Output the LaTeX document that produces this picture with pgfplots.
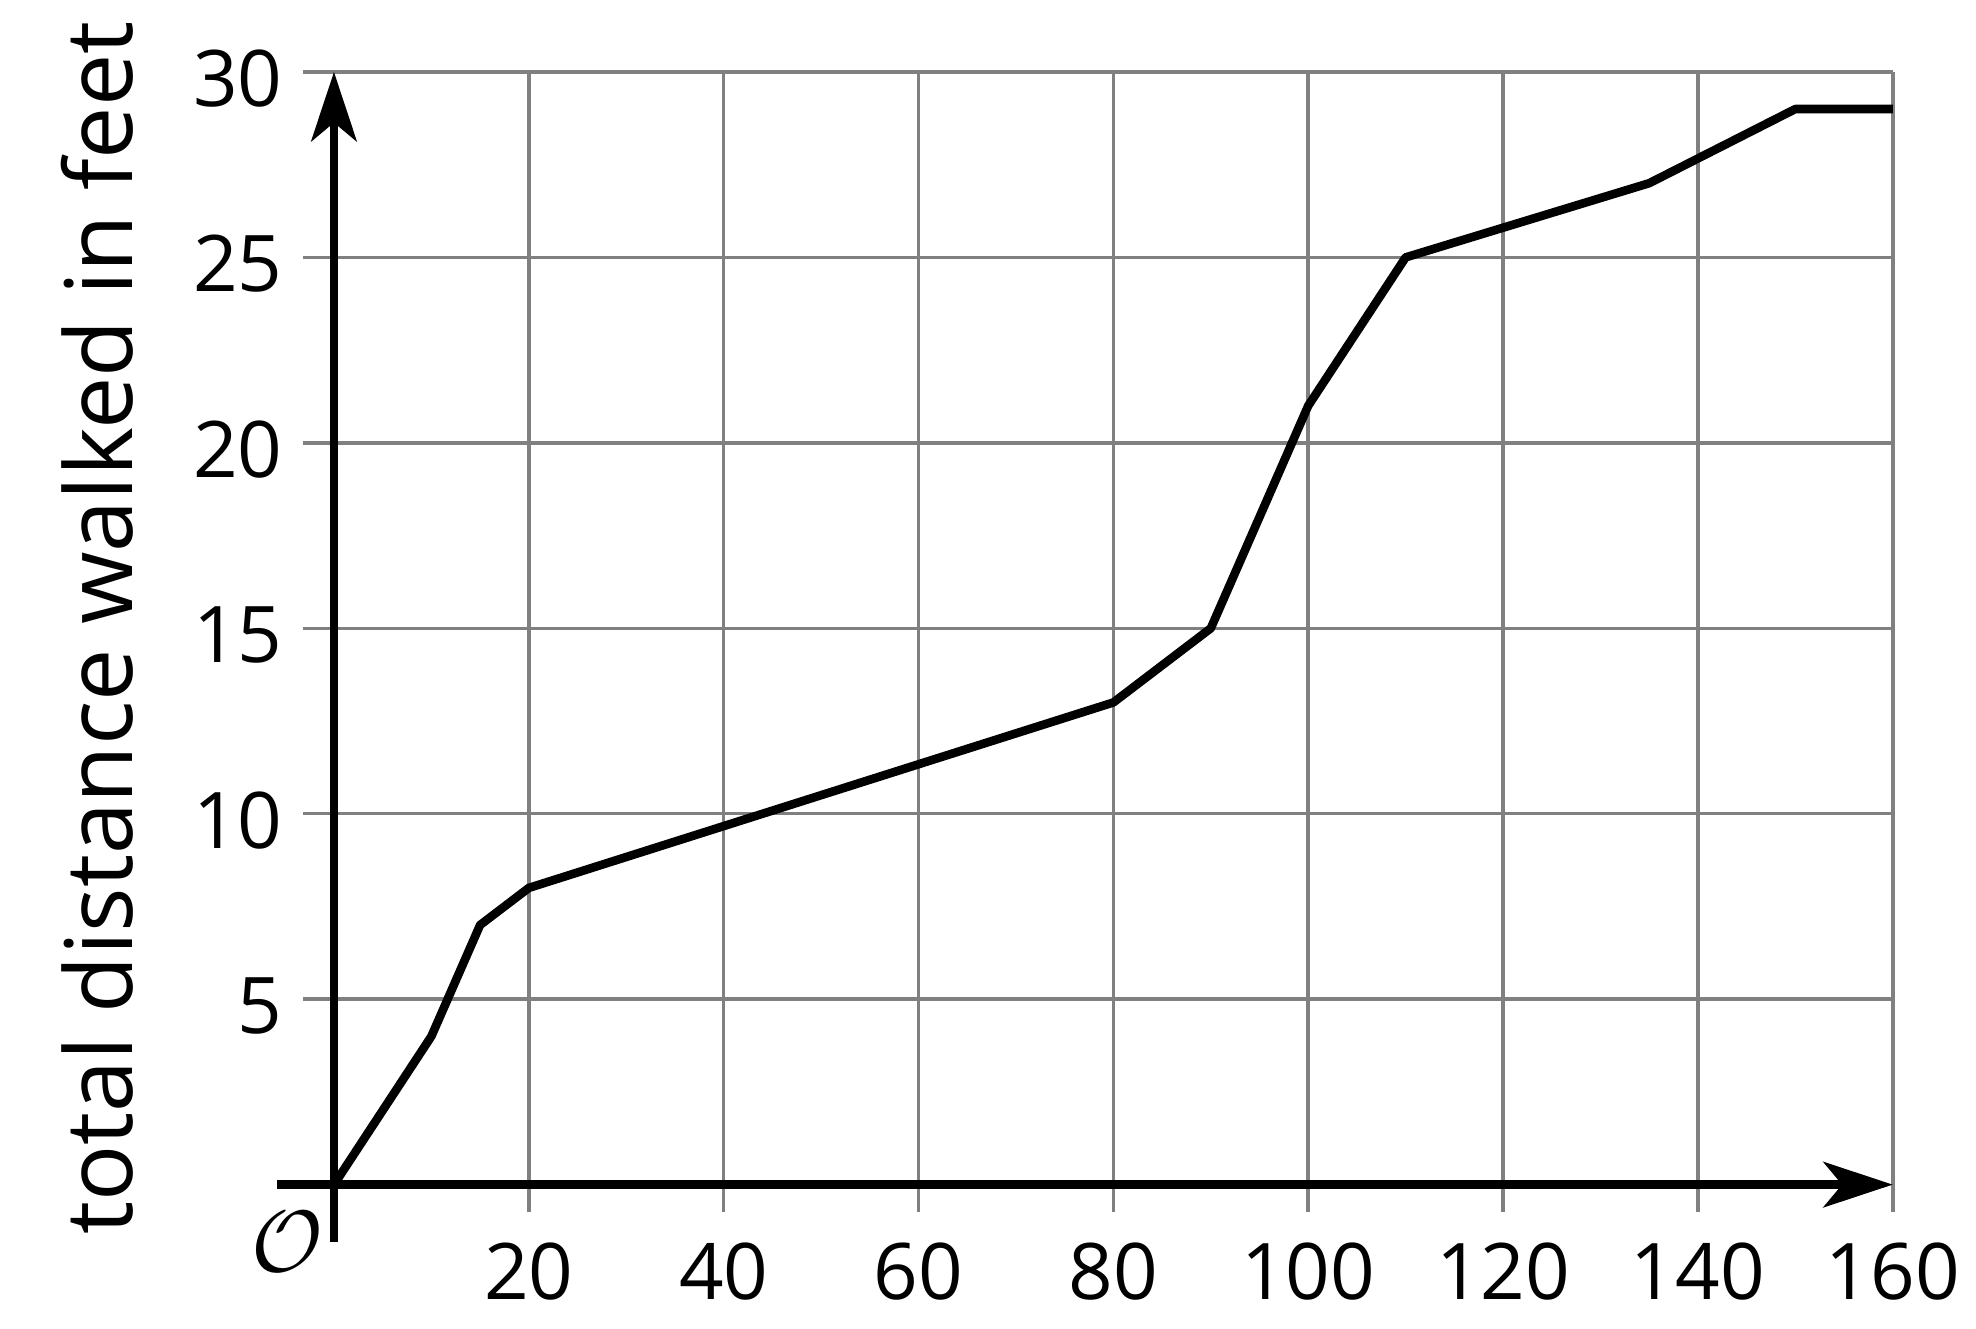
\documentclass[border=0pt]{standalone}
\usepackage{fontspec}
\setmainfont{Open Sans}
\usepackage{pgfplots}
\pgfplotsset{compat=1.18}
\usetikzlibrary{arrows.meta}

\begin{document}
\begin{tikzpicture}
\begin{axis}[
    scale only axis,
    width=309.25pt, height=220.75pt,
    xmin=0, xmax=160, ymin=0, ymax=30,
    clip=false,
    axis line style={draw=none},
    xtick={20,40,...,160},
    ytick={5,10,...,30},
    major tick length=0pt,
    grid=major,
    grid style={draw=gray, line width=0.7pt},
    tick label style={font=\fontsize{15.5}{18}\selectfont},
    /pgf/number format/assume math mode=true,
    xticklabel style={anchor=north, inner sep=0pt, yshift=-11.25pt},
    yticklabel style={anchor=east, inner sep=0pt, xshift=-10pt, yshift=-1.3pt},
]
% grid stubs outside the frame
\pgfplotsinvokeforeach{5,10,...,30}{
  \draw[gray, line width=0.7pt] (axis cs:-3.2,#1) -- (axis cs:0,#1);
}
\pgfplotsinvokeforeach{20,40,...,160}{
  \draw[gray, line width=0.7pt] (axis cs:#1,-0.75) -- (axis cs:#1,0);
}
% axes with arrows
\draw[line width=1.7pt, -{Stealth[length=13.75pt, width=9pt, inset=3.7pt]}]
  (axis cs:-5.8,0) -- (axis cs:160,0);
\draw[line width=1.7pt, -{Stealth[length=13.75pt, width=9pt, inset=3.7pt]}]
  (axis cs:0,-1.55) -- (axis cs:0,30);

\addplot[black, line width=1.7pt, line join=round] coordinates {
  (0,0) (10,4) (15,7) (20,8) (80,13) (90,15) (100,21)
  (110,25) (135,27) (150,29) (160,29)
};

\node at (axis cs:-4.8,-1.53) {\fontsize{19}{21}\selectfont$\mathcal{O}$};
\node[rotate=90, anchor=base, font=\fontsize{18.5}{22}\selectfont]
  at ([xshift=-40pt]axis cs:0,15) {total distance walked in feet};

% page frame
\path (axis cs:-34.28,-3.87) rectangle (axis cs:168.54,31.94);
\end{axis}
\end{tikzpicture}
\end{document}
